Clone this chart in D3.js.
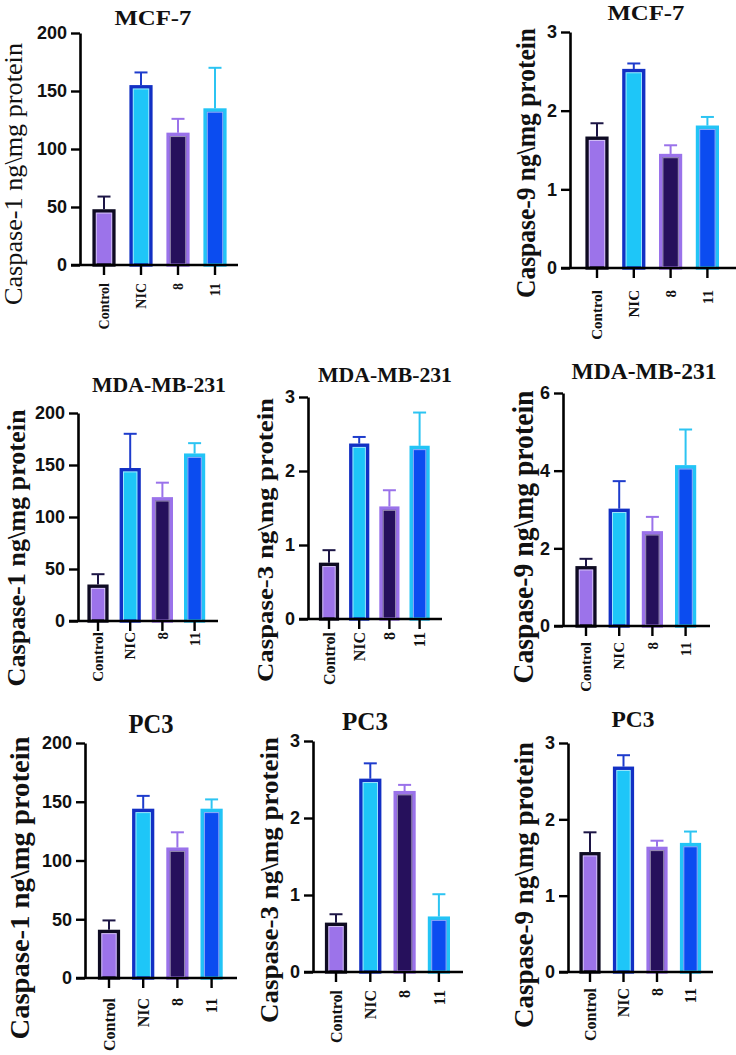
<!DOCTYPE html>
<html><head><meta charset="utf-8">
<script src="https://cdn.jsdelivr.net/npm/d3@7"></script>
<style>body{margin:0;background:#fff} svg{display:block}</style>
</head><body><svg id="c" width="736" height="1055"></svg>
<script>
// ---------- DATA ----------
const categories = ["Control", "NIC", "8", "11"];

const mcf7Casp1Mean = [48, 155, 114, 135];
const mcf7Casp1Err  = [11, 11, 12, 35];
const mcf7Casp9Mean = [1.67, 2.53, 1.45, 1.81];
const mcf7Casp9Err  = [0.17, 0.07, 0.11, 0.11];

const mdaCasp1Mean = [35, 147, 119, 161];
const mdaCasp1Err  = [10, 33, 14, 10];
const mdaCasp3Mean = [0.76, 2.37, 1.52, 2.34];
const mdaCasp3Err  = [0.17, 0.09, 0.22, 0.45];
const mdaCasp9Mean = [1.54, 3.02, 2.44, 4.14];
const mdaCasp9Err  = [0.19, 0.71, 0.37, 0.92];

const pc3Casp1Mean = [41, 144, 111, 144];
const pc3Casp1Err  = [8, 11, 13, 8];
const pc3Casp3Mean = [0.64, 2.51, 2.35, 0.72];
const pc3Casp3Err  = [0.11, 0.20, 0.08, 0.29];
const pc3Casp9Mean = [1.57, 2.69, 1.64, 1.69];
const pc3Casp9Err  = [0.26, 0.15, 0.08, 0.15];

const ticks200 = [0, 50, 100, 150, 200];
const ticks3 = [0, 1, 2, 3];
const ticks6 = [0, 2, 4, 6];

const panelTitles = ["MCF-7", "MCF-7", "MDA-MB-231", "MDA-MB-231", "MDA-MB-231", "PC3", "PC3", "PC3"];
const panelYLabels = [
  "Caspase-1 ng\\mg protein", "Caspase-9 ng\\mg protein",
  "Caspase-1 ng\\mg protein", "Caspase-3 ng\\mg protein", "Caspase-9 ng\\mg protein",
  "Caspase-1 ng\\mg protein", "Caspase-3 ng\\mg protein", "Caspase-9 ng\\mg protein"
];
const panelMeans = [mcf7Casp1Mean, mcf7Casp9Mean, mdaCasp1Mean, mdaCasp3Mean, mdaCasp9Mean, pc3Casp1Mean, pc3Casp3Mean, pc3Casp9Mean];
const panelErrs  = [mcf7Casp1Err, mcf7Casp9Err, mdaCasp1Err, mdaCasp3Err, mdaCasp9Err, pc3Casp1Err, pc3Casp3Err, pc3Casp9Err];
const panelTicks = [ticks200, ticks3, ticks200, ticks3, ticks6, ticks200, ticks3, ticks3];

// ---------- STYLE ----------
const barFill   = ["#9c73ea", "#1ec6f8", "#26105c", "#0b4cf0"];
const barStroke = ["#0e0b22", "#1230c4", "#9a72ea", "#22c4f6"];
const errColor  = ["#1c1545", "#1e3ccc", "#9a72ea", "#2cc4f2"];

// ---------- LAYOUT ----------
const layout = [
  {ax:80,  xEnd:238, yTop:33,  yBot:265, c0:104, step:37,   bw:23, tx:153, ty:25,  tLen:77,  tSize:20, lx:22,  ly:174, lLen:262, lSize:26, lW:"normal", xlGap:18, xlSize:14},
  {ax:570, xEnd:736, yTop:32,  yBot:268, c0:597, step:36.8, bw:23, tx:646, ty:20,  tLen:77,  tSize:20, lx:535, ly:163, lLen:270, lSize:28, lW:"bold", xlGap:22, xlSize:15},
  {ax:78,  xEnd:218, yTop:413, yBot:621, c0:98,  step:32.2, bw:21, tx:159, ty:392, tLen:134, tSize:22, lx:25,  ly:548, lLen:277, lSize:25, lW:"bold", xlGap:11, xlSize:15},
  {ax:308, xEnd:442, yTop:397, yBot:619, c0:329, step:30.2, bw:20, tx:385, ty:382, tLen:134, tSize:20, lx:273, ly:540, lLen:284, lSize:24, lW:"bold", xlGap:13, xlSize:16},
  {ax:563, xEnd:710, yTop:393, yBot:626, c0:586, step:33.2, bw:21, tx:644, ty:379, tLen:145, tSize:24, lx:533, ly:537, lLen:293, lSize:29, lW:"bold", xlGap:16, xlSize:15},
  {ax:85,  xEnd:237, yTop:743, yBot:978, c0:109, step:34.2, bw:22, tx:151, ty:733, tLen:45,  tSize:27, lx:29,  ly:888, lLen:303, lSize:27, lW:"bold", xlGap:20, xlSize:16},
  {ax:313, xEnd:463, yTop:741, yBot:972, c0:336, step:34.3, bw:22, tx:365, ty:730, tLen:46,  tSize:26, lx:278, ly:880, lLen:286, lSize:26, lW:"bold", xlGap:18, xlSize:16},
  {ax:568, xEnd:713, yTop:743, yBot:972, c0:590, step:33.5, bw:21, tx:633, ty:727, tLen:43,  tSize:24, lx:533, ly:885, lLen:286, lSize:27, lW:"bold", xlGap:16, xlSize:16}
];

const serif = "'Liberation Serif','Times New Roman',serif";
const sans = "'Liberation Sans',Arial,sans-serif";
const svg = d3.select("#c");

layout.forEach((L, i) => {
  const means = panelMeans[i], errs = panelErrs[i], ticks = panelTicks[i];
  const g = svg.append("g");
  const y = d3.scaleLinear().domain([0, d3.max(ticks)]).range([L.yBot, L.yTop]);
  const pad = 1 - L.bw / L.step;
  const x = d3.scaleBand().domain(categories)
    .range([L.c0 - L.step / 2, L.c0 - L.step / 2 + 4 * L.step])
    .paddingInner(pad).paddingOuter(pad / 2);

  // bars
  categories.forEach((c, j) => {
    const x0 = x(c), w = x.bandwidth(), yt = y(means[j]);
    g.append("rect")
      .attr("x", x0 + 1.6).attr("y", yt + 1.6)
      .attr("width", w - 3.2).attr("height", Math.max(0, L.yBot - yt - 1.6))
      .attr("fill", barFill[j]).attr("stroke", barStroke[j]).attr("stroke-width", 3.4);
    g.append("rect")
      .attr("x", x0 + 3.8).attr("y", yt + 3.8)
      .attr("width", w - 7.6).attr("height", Math.max(0, L.yBot - yt - 4))
      .attr("fill", "none").attr("stroke", "#ffffff").attr("stroke-opacity", 0.55).attr("stroke-width", 1);
    // error bar (upper only)
    const cx = x0 + w / 2, ye = y(means[j] + errs[j]);
    g.append("line").attr("x1", cx).attr("x2", cx).attr("y1", yt).attr("y2", ye)
      .attr("stroke", errColor[j]).attr("stroke-width", 2);
    g.append("line").attr("x1", cx - 6.5).attr("x2", cx + 6.5).attr("y1", ye).attr("y2", ye)
      .attr("stroke", errColor[j]).attr("stroke-width", 2);
  });

  // y axis
  const ya = g.append("g").attr("transform", `translate(${L.ax},0)`)
    .call(d3.axisLeft(y).tickValues(ticks).tickSize(9).tickSizeOuter(0).tickPadding(4).tickFormat(d3.format("d")));
  ya.attr("font-size", null).attr("font-family", null);
  ya.select(".domain").attr("stroke", "#000").attr("stroke-width", 2.6);
  ya.selectAll(".tick line").attr("stroke", "#000").attr("stroke-width", 2.4);
  ya.selectAll(".tick text")
    .style("font-family", sans).style("font-weight", "bold")
    .style("font-size", "18px").attr("fill", "#111");

  // x axis
  g.append("line").attr("x1", L.ax - 9).attr("x2", L.xEnd).attr("y1", L.yBot).attr("y2", L.yBot)
    .attr("stroke", "#000").attr("stroke-width", 2.6);
  const xa = g.append("g").attr("transform", `translate(0,${L.yBot})`)
    .call(d3.axisBottom(x).tickSize(10).tickSizeOuter(0));
  xa.attr("font-size", null).attr("font-family", null);
  xa.select(".domain").remove();
  xa.selectAll(".tick line").attr("stroke", "#000").attr("stroke-width", 2.4);
  xa.selectAll(".tick text")
    .attr("transform", "rotate(-90)")
    .attr("text-anchor", "end")
    .attr("x", -L.xlGap).attr("y", 0).attr("dy", "0.35em")
    .style("font-family", serif).style("font-weight", "bold")
    .style("font-size", L.xlSize + "px").attr("fill", "#111");

  // title
  g.append("text").attr("x", L.tx).attr("y", L.ty).attr("text-anchor", "middle")
    .style("font-family", serif).style("font-weight", "bold").style("font-size", L.tSize + "px")
    .attr("textLength", L.tLen).attr("lengthAdjust", "spacingAndGlyphs")
    .attr("fill", "#111").text(panelTitles[i]);

  // y label
  g.append("text").attr("transform", `translate(${L.lx},${L.ly}) rotate(-90)`)
    .attr("text-anchor", "middle")
    .style("font-family", serif).style("font-weight", L.lW).style("font-size", L.lSize + "px")
    .attr("textLength", L.lLen).attr("lengthAdjust", "spacingAndGlyphs")
    .attr("fill", "#111").text(panelYLabels[i]);
});
</script>
</body></html>
